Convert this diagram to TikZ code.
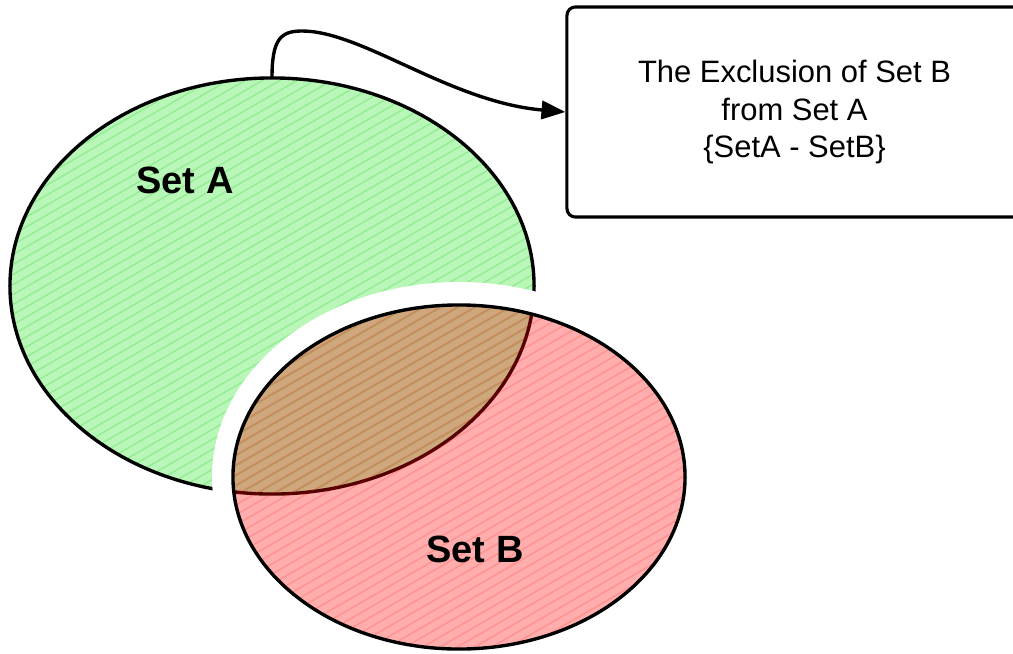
\documentclass[tikz,border=0pt]{standalone}
\usepackage{fontspec}
\setmainfont{Liberation Sans}
\usetikzlibrary{shapes.geometric,arrows.meta,calc}
\definecolor{agreen}{RGB}{184,247,184}
\definecolor{ahatch}{RGB}{148,237,148}
\begin{document}
\begin{tikzpicture}[x=0.025cm,y=-0.025cm,
  outline/.style={draw=black, line width=2.4pt},
  setshape/.style={ellipse, inner sep=0pt, outer sep=0pt, outline},
  hatch/.style={path picture={
    \foreach \k in {-70,...,70}
      \draw[#1] ($(path picture bounding box.center)+(-400,\k*10)$) -- ++(800,-462);
  }},
  setlabel/.style={font=\fontsize{27}{32}\selectfont\bfseries},
  note/.style={outline, line width=2.2pt, rounded corners=6pt, align=center, inner sep=0pt,
    font=\fontsize{22}{26.4}\selectfont},
  link/.style={line width=2.4pt, -{Triangle[length=17pt,width=13pt]}}]
\useasboundingbox (0,0) rectangle (1013,653);

% Set A: green hatched ellipse
\node[setshape, fill=agreen, minimum width=13.1cm, minimum height=10.4cm,
  hatch={ahatch, line width=1pt}] (A) at (272,286) {};

% white gap around Set B
\coordinate (Bc) at (459,477);
\fill[white, even odd rule] (Bc) ellipse [x radius=247, y radius=195]
  (Bc) ellipse [x radius=226, y radius=172];

% Set B: translucent red hatched ellipse
\node[setshape, fill=red, fill opacity=0.32, minimum width=11.3cm, minimum height=8.6cm,
  hatch={red, draw opacity=0.16, line width=1pt}] (B) at (Bc) {};

\node[setlabel] (labelA) at (185,180) {Set A};
\node[setlabel] (labelB) at (475,549) {Set B};

% explanation box
\node[note, minimum width=11.375cm, minimum height=5.25cm] (box) at (794.5,112)
  {The Exclusion of Set B\\from Set A\\\{SetA - SetB\}};

\draw[link] (A.north) .. controls +(0,-38) and +(-22,0) .. (302,31)
  .. controls (362,31) and (450,102) .. (box.west);
\end{tikzpicture}
\end{document}
